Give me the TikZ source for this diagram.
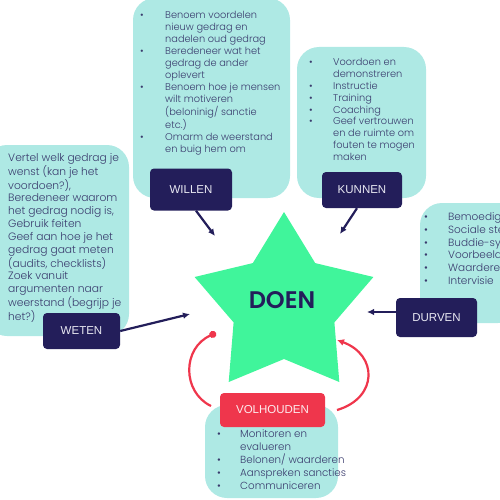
\documentclass[tikz,border=0pt]{standalone}
\usepackage{fontspec}
\setmainfont{Poppins}[UprightFont=* Light, BoldFont=* SemiBold]
\newfontfamily\labfont{Liberation Sans}
\usetikzlibrary{arrows.meta}
\definecolor{bubc}{HTML}{AEE9E4}
\definecolor{navyc}{HTML}{231E5A}
\definecolor{starc}{HTML}{40F59B}
\definecolor{redc}{HTML}{EF364C}
\definecolor{txtc}{HTML}{3A3C6E}
\definecolor{labtxt}{HTML}{E8E8F2}
\begin{document}
\begin{tikzpicture}[x=1pt,y=-1pt,
  bubble/.style={fill=bubc, rounded corners=22pt, inner sep=0pt},
  lbl/.style={fill=navyc, rounded corners=4pt, text=labtxt, font=\labfont\fontsize{11.5}{13}\selectfont, inner sep=0pt},
  redlbl/.style={fill=redc, rounded corners=4pt, text=white!90!redc, font=\labfont\fontsize{11.5}{13}\selectfont, inner sep=0pt},
  txt/.style={text=txtc, inner sep=0pt, anchor=base west},
  navarrow/.style={draw=navyc, line width=2.2pt, -{Latex[length=7pt,width=6.5pt]}},
  redarrow/.style={draw=redc, line width=2.2pt}]
\useasboundingbox (0,0) rectangle (500,500);
\clip (0,0) rectangle (500,500);
% bubbles
\node[bubble, minimum width=157pt, minimum height=200pt] (wb) at (211.5,98) {};
\node[bubble, minimum width=129pt, minimum height=151pt] (kb) at (361.5,122.5) {};
\node[bubble, minimum width=144pt, minimum height=191pt] (tb) at (57,240.5) {};
\node[bubble, minimum width=100pt, minimum height=120pt] (db) at (470,263) {};
\node[bubble, minimum width=133pt, minimum height=93pt] (vb) at (271.5,451.5) {};
% star
\fill[starc] (284,212) -- (315.2,263.1) -- (373.4,277) -- (334.4,322.4) -- (339.3,382)
  -- (284,359) -- (228.7,382) -- (233.6,322.4) -- (194.6,277) -- (252.8,263.1) -- cycle;
\node[text=navyc, font=\bfseries\fontsize{24}{26}\selectfont, inner sep=0pt] (doen) at (282,300) {DOEN};
% texts
\node[txt] (wt) at (140,18.5) {\fontsize{9.8}{12}\selectfont
\begin{tabular}[t]{@{}p{25pt}@{}l@{}}
• & Benoem voordelen\\
 & nieuw gedrag en\\
 & nadelen oud gedrag\\
• & Beredeneer wat het\\
 & gedrag de ander\\
 & oplevert\\
• & Benoem hoe je mensen\\
 & wilt motiveren\\
 & (beloninig/ sanctie\\
 & etc.)\\
• & Omarm de weerstand\\
 & en buig hem om
\end{tabular}};
\node[txt] (kt) at (309,65.5) {\fontsize{9.8}{11.9}\selectfont
\begin{tabular}[t]{@{}p{24pt}@{}l@{}}
• & Voordoen en\\
 & demonstreren\\
• & Instructie\\
• & Training\\
• & Coaching\\
• & Geef vertrouwen\\
 & en de ruimte om\\
 & fouten te mogen\\
 & maken
\end{tabular}};
\node[txt] (tt) at (8,161.5) {\fontsize{10.7}{12.8}\selectfont
\begin{tabular}[t]{@{}l@{}}
Vertel welk gedrag je\\
wenst (kan je het\\
voordoen?),\\
Beredeneer waarom\\
het gedrag nodig is,\\
Gebruik feiten\\
Geef aan hoe je het\\
gedrag gaat meten\\
(audits, checklists)\\
Zoek vanuit\\
argumenten naar\\
weerstand (begrijp je\\
het?)
\end{tabular}};
\node[txt] (dt) at (424,220.5) {\fontsize{10.5}{12.8}\selectfont
\begin{tabular}[t]{@{}p{24pt}@{}l@{}}
• & Bemoedigen\\
• & Sociale steun\\
• & Buddie-systeem\\
• & Voorbeeldgedrag\\
• & Waarderen\\
• & Intervisie
\end{tabular}};
\node[txt] (vt) at (217,437.5) {\fontsize{10.3}{12.75}\selectfont
\begin{tabular}[t]{@{}p{23pt}@{}l@{}}
• & Monitoren en\\
 & evalueren\\
• & Belonen/ waarderen\\
• & Aanspreken sancties\\
• & Communiceren
\end{tabular}};
% red cycle
\coordinate (ls) at (216,333);
\coordinate (le) at (211,406);
\coordinate (rs) at (337,410);
\coordinate (re) at (337,340);
\draw[redarrow, {Circle[length=7pt]}-] (ls) .. controls (182,348) and (182,392) .. (le);
\draw[redarrow, -{Latex[length=7pt,width=7pt]}] (rs) .. controls (378,398) and (378,355) .. (re);
% labels
\node[lbl, minimum width=82pt, minimum height=42pt] (willen) at (191,189.5) {WILLEN};
\node[lbl, minimum width=80pt, minimum height=36pt] (kunnen) at (362,190) {KUNNEN};
\node[lbl, minimum width=77pt, minimum height=36pt] (weten) at (81.5,331) {WETEN};
\node[lbl, minimum width=81pt, minimum height=39pt] (durven) at (436.5,317.5) {DURVEN};
\node[redlbl, minimum width=105pt, minimum height=34pt] (volh) at (272.5,410) {VOLHOUDEN};
% arrows
\coordinate (wi) at (215,236);
\coordinate (ki) at (340,234);
\coordinate (ti) at (190,314);
\coordinate (di) at (367,312);
\draw[navarrow] ([xshift=5pt]willen.south) -- (wi);
\draw[navarrow] ([xshift=-5pt]kunnen.south) -- (ki);
\draw[navarrow] (weten.east) -- (ti);
\draw[navarrow] ([yshift=5.5pt]durven.west) -- (di);
\end{tikzpicture}
\end{document}
